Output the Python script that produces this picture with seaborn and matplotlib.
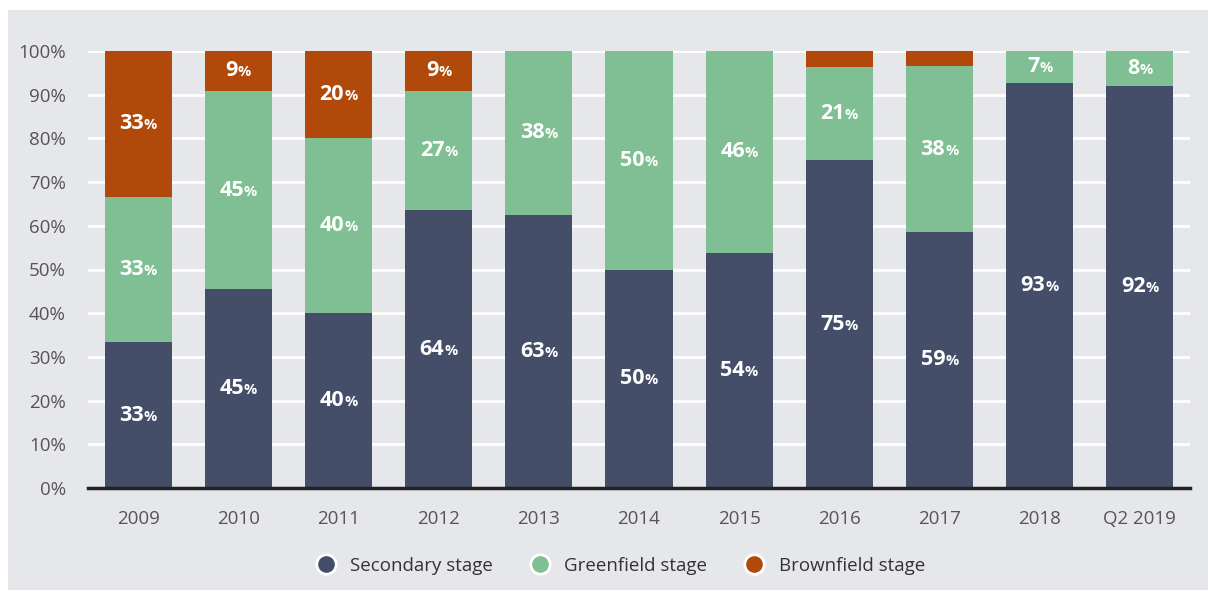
import numpy as np
import pandas as pd
import matplotlib.pyplot as plt
from matplotlib.patches import Rectangle
from matplotlib.lines import Line2D
import seaborn as sns

sns.set_theme(style="white")
plt.rcParams["font.family"] = ["Open Sans", "DejaVu Sans"]

# Data (shares in %)
years = ["2009", "2010", "2011", "2012", "2013", "2014", "2015", "2016", "2017", "2018", "Q2 2019"]
secondary = [33.34, 45.45, 40.0, 63.6, 62.5, 50.0, 53.8, 75.0, 58.6, 92.7, 92.0]
greenfield = [33.33, 45.45, 40.0, 27.3, 37.5, 50.0, 46.2, 21.4, 37.9, 7.3, 8.0]
brownfield = [33.33, 9.1, 20.0, 9.1, 0.0, 0.0, 0.0, 3.6, 3.5, 0.0, 0.0]

series_names = ["Secondary stage", "Greenfield stage", "Brownfield stage"]
colors = ["#444e69", "#7fbf93", "#b0490a"]

df = pd.DataFrame({"year": years, "secondary": secondary,
                   "greenfield": greenfield, "brownfield": brownfield})
df["cum1"] = df["secondary"]
df["cum2"] = df["secondary"] + df["greenfield"]
df["cum3"] = df["cum2"] + df["brownfield"]

fig = plt.figure(figsize=(12.08, 5.91), dpi=100)
fig.patch.set_facecolor("white")
bg = "#e6e7ea"
fig.patches.append(Rectangle((8 / 1208, 1 / 591), 1200 / 1208, 580 / 591,
                             transform=fig.transFigure, facecolor=bg,
                             edgecolor="none", zorder=-10))

ax = fig.add_axes([88 / 1208, 1 - 488 / 591, (1190 - 88) / 1208, (488 - 51) / 591])
ax.set_facecolor(bg)

# stacked bars drawn as cumulative totals, tallest first
for col, c in zip(["cum3", "cum2", "cum1"], colors[::-1]):
    sns.barplot(data=df, x="year", y=col, order=years, color=c, width=0.67,
                saturation=1, ax=ax, zorder=3, linewidth=0)

ax.set_xlim(-0.5, len(years) - 0.5)
ax.set_ylim(0, 100)
ax.set_yticks(np.arange(0, 101, 10))
ax.set_yticklabels([f"{v}%" for v in range(0, 101, 10)])
ax.yaxis.grid(True, color="white", linewidth=2, zorder=0)
ax.set_axisbelow(True)
ax.set_xlabel("")
ax.set_ylabel("")
for s in ["top", "right", "left"]:
    ax.spines[s].set_visible(False)
ax.spines["bottom"].set_color("#222222")
ax.spines["bottom"].set_linewidth(2.5)
ax.spines["bottom"].set_zorder(5)
ax.tick_params(axis="both", length=0, labelsize=13.5, colors="#555555")
ax.tick_params(axis="x", pad=16)
ax.tick_params(axis="y", pad=16)

# value labels: bold number + smaller % sign
pairs = []
for i in range(len(years)):
    bottom = 0
    for vals in [secondary, greenfield, brownfield]:
        v = vals[i]
        if v >= 5:
            mid = bottom + v / 2
            t1 = ax.text(i, mid, f"{int(v + 0.5)}", color="white", fontsize=15.5,
                         fontweight="bold", ha="right", va="center", zorder=6)
            t2 = ax.text(i, mid, "%", color="white", fontsize=10.5,
                         fontweight="bold", ha="left", va="center", zorder=6)
            pairs.append((t1, t2, i, mid))
        bottom += v

fig.canvas.draw()
r = fig.canvas.get_renderer()
inv = ax.transData.inverted()
for t1, t2, i, mid in pairs:
    w1 = t1.get_window_extent(r).width
    w2 = t2.get_window_extent(r).width
    xc = ax.transData.transform((i, mid))
    tot = w1 + w2
    x_num = xc[0] - tot / 2 + w1
    t1.set_position(inv.transform((x_num, xc[1])))
    t2.set_position(inv.transform((x_num, xc[1] - 1.5)))

handles = [Line2D([], [], marker="o", linestyle="none", markersize=14,
                  markerfacecolor=c, markeredgecolor="white", markeredgewidth=2)
           for c in colors]
fig.legend(handles, series_names, loc="center", bbox_to_anchor=(616 / 1208, 1 - 566 / 591),
           ncol=3, frameon=False, fontsize=13.5, handletextpad=0.3, columnspacing=1.5,
           labelcolor="#333333")

fig.savefig("out.png", dpi=100, facecolor=fig.get_facecolor())
